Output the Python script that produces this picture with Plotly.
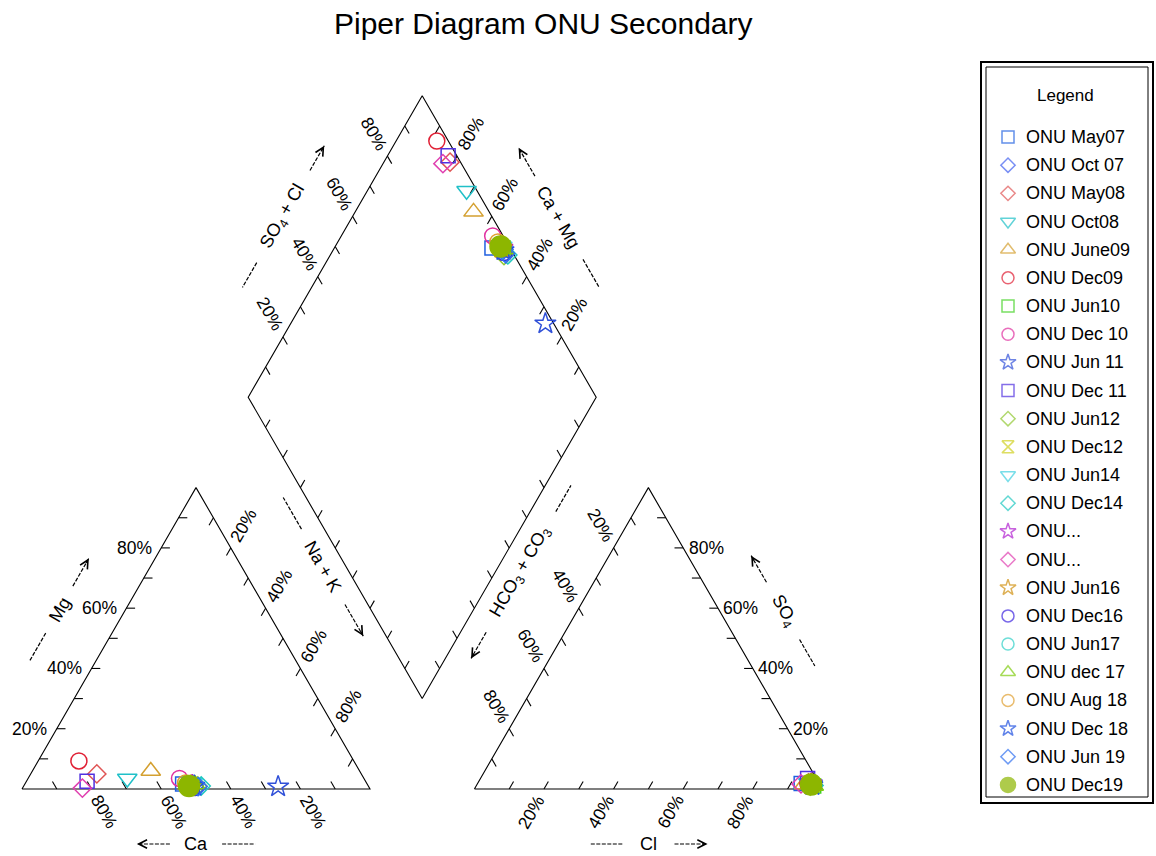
import math
import plotly.graph_objects as go

# ---------------- data (percent of meq) ----------------
samples = ["ONU May07", "ONU Oct 07", "ONU May08", "ONU Oct08", "ONU June09", "ONU Dec09",
           "ONU Jun10", "ONU Dec 10", "ONU Jun 11", "ONU Dec 11", "ONU Jun12", "ONU Dec12",
           "ONU Jun14", "ONU Dec14", "ONU...", "ONU...", "ONU Jun16", "ONU Dec16",
           "ONU Jun17", "ONU dec 17", "ONU Aug 18", "ONU Dec 18", "ONU Jun 19", "ONU Dec19"]
ca   = [53, 50, 76, 68, 60, 79, 51, 53, 26, 80, 49, 51, 50, 48, 50.5, 82.5, 51, 50, 51.5, 49.5, 52, 50, 49, 51.5]
mg   = [1.7, 1, 5, 3.5, 6, 9.3, 0.5, 3.5, 0.8, 2.6, 1, 1.5, 2, 1, 1.2, 0.3, 1, 0.5, 1, 1.5, 2, 1, 0.8, 1]
nak  = [45.3, 49, 19, 28.5, 34, 11.7, 48.5, 43.5, 73.2, 17.4, 50, 47.5, 48, 51, 48.3, 17.2, 48, 49.5, 47.5, 49, 46, 49, 50.2, 47.5]
cl   = [93, 96.5, 95, 95, 94, 95, 97, 95.5, 96, 94, 96, 96, 96.5, 97, 96, 93, 96, 96.5, 96, 97, 96, 96.5, 96.5, 96]
so4  = [1.8, 1.5, 2, 2, 1.5, 1.7, 1, 1.5, 1.6, 3.5, 1, 1.5, 1.5, 1.2, 1.8, 1.7, 1.5, 1, 1.3, 1, 1.5, 1.2, 1.3, 1.5]
hco3 = [5.2, 2, 3, 3, 4.5, 3.3, 2, 3, 2.4, 2.5, 3, 2.5, 2, 1.8, 2.2, 5.3, 2.5, 2.5, 2.7, 2, 2.5, 2.3, 2.2, 2.5]

symbols = ["square-open", "diamond-open", "diamond-open", "triangle-down-open", "triangle-up-open",
           "circle-open", "square-open", "circle-open", "star-open", "square-open", "diamond-open",
           "hourglass-open", "triangle-down-open", "diamond-open", "star-open", "diamond-open",
           "star-open", "circle-open", "circle-open", "triangle-up-open", "circle-open", "star-open",
           "diamond-open", "circle"]
colors = ["#2060e0", "#4060f0", "#e05555", "#20c0c8", "#d4a030", "#e02035", "#40d020", "#e030a0",
          "#3050d8", "#5030e0", "#90c830", "#d0d020", "#40d0e0", "#20c8c0", "#b020d0", "#e040b0",
          "#d09010", "#4028e0", "#30d0c8", "#80cc10", "#e0a030", "#2050e0", "#3070f0", "#8db600"]

tick_values = [20, 40, 60, 80]
tick_labels = ["20%", "40%", "60%", "80%"]

# ---------------- geometry ----------------
S3 = math.sqrt(3) / 2
GAP = 0.3
AX0 = 1 + GAP
BX, BY = 1 + GAP / 2, GAP * S3
PX = 348.0
X0PX, Y0PX = 22.0, 789.0
W, H = 1156, 856
FONT = "Liberation Sans, Arial, sans-serif"
TICK_FS = 17.5
TITLE_FS = 18
LEG_FS = 18


def ux(p):
    return (p - X0PX) / PX


def uy(p):
    return (Y0PX - p) / PX


def cat_xy(c, m, n):
    t = c + m + n
    return n / t + m / t / 2, m / t * S3


def an_xy(c, s, h):
    t = c + s + h
    return AX0 + c / t + s / t / 2, s / t * S3


def dia_xy(c, m, n, l, s, h):
    a = (c + m) / (c + m + n)
    b = (l + s) / (l + s + h)
    return BX + 0.5 * (b - a), BY + S3 * (a + b)


fig = go.Figure()
ann = []

# outlines
lx, ly = [], []
for poly in ([(0, 0), (1, 0), (0.5, S3), (0, 0)],
             [(AX0, 0), (AX0 + 1, 0), (AX0 + 0.5, S3), (AX0, 0)],
             [(BX, BY), (BX + 0.5, BY + S3), (BX, BY + 2 * S3), (BX - 0.5, BY + S3), (BX, BY)]):
    lx += [p[0] for p in poly] + [None]
    ly += [p[1] for p in poly] + [None]

TL = 0.025
LD = 0.075
# (p0 = 0%, p1 = 100%, tick dir, label dir, angle, mode)
sides = [
    ((1, 0), (0, 0), (-0.5, S3), (0.5, -S3), 60, "rot"),                       # Ca
    ((0, 0), (0.5, S3), (1, 0), None, 0, "left"),                               # Mg
    ((0.5, S3), (1, 0), (-0.5, -S3), (0.5, S3), -60, "rot"),                   # Na+K
    ((AX0, 0), (AX0 + 1, 0), (0.5, S3), (-0.5, -S3), -60, "rot"),              # Cl
    ((AX0 + 1, 0), (AX0 + 0.5, S3), (-1, 0), None, 0, "right"),                 # SO4
    ((AX0 + 0.5, S3), (AX0, 0), (0.5, -S3), (-0.5, S3), 60, "rot"),            # HCO3
    ((BX - 0.5, BY + S3), (BX, BY + 2 * S3), (0.5, -S3), (-0.5, S3), 60, "rot"),   # SO4+Cl
    ((BX + 0.5, BY + S3), (BX, BY + 2 * S3), (-0.5, -S3), (0.5, S3), -60, "rot"),  # Ca+Mg
    ((BX, BY), (BX - 0.5, BY + S3), (0.5, S3), None, 0, "none"),
    ((BX, BY), (BX + 0.5, BY + S3), (-0.5, S3), None, 0, "none"),
]
for p0, p1, td, ld, ang, mode in sides:
    for k in range(1, 10):
        f = k / 10
        px_ = p0[0] + (p1[0] - p0[0]) * f
        py_ = p0[1] + (p1[1] - p0[1]) * f
        lx += [px_, px_ + td[0] * TL, None]
        ly += [py_, py_ + td[1] * TL, None]
    for v, lab in zip(tick_values, tick_labels):
        f = v / 100
        px_ = p0[0] + (p1[0] - p0[0]) * f
        py_ = p0[1] + (p1[1] - p0[1]) * f
        if mode == "rot":
            ann.append(dict(x=px_ + ld[0] * LD, y=py_ + ld[1] * LD, text=lab, textangle=ang,
                            showarrow=False, xanchor="center", yanchor="middle",
                            font=dict(size=TICK_FS, color="black", family=FONT)))
        elif mode == "left":
            ann.append(dict(x=px_ - 0.022, y=py_, text=lab, showarrow=False,
                            xanchor="right", yanchor="middle",
                            font=dict(size=TICK_FS, color="black", family=FONT)))
        elif mode == "right":
            ann.append(dict(x=px_ + 0.01, y=py_, text=lab, showarrow=False,
                            xanchor="left", yanchor="middle",
                            font=dict(size=TICK_FS, color="black", family=FONT)))

fig.add_trace(go.Scatter(x=lx, y=ly, mode="lines", line=dict(color="black", width=1.1),
                         hoverinfo="skip", showlegend=False))

# axis titles with dashed line + arrow
titles = [
    ((0.5, -0.158), (-1, 0), "Ca", 0, 0.075, 0.17),
    ((AX0 + 0.5, -0.158), (1, 0), "Cl", 0, 0.075, 0.17),
    ((0.1071, 0.5155), (0.5, S3), "Mg", -60, 0.078, 0.17),
    ((2.1868, 0.512), (-0.5, S3), "SO<sub>4</sub>", 60, 0.095, 0.183),
    ((0.751, 1.645), (0.5, S3), "SO<sub>4</sub> + Cl", -60, 0.153, 0.235),
    ((1.543, 1.6415), (-0.5, S3), "Ca + Mg", 60, 0.138, 0.232),
    ((0.8656, 0.6385), (0.5, -S3), "Na + K", 60, 0.125, 0.23),
    ((1.4339, 0.6238), (-0.5, -S3), "HCO<sub>3</sub> + CO<sub>3</sub>", -60, 0.2, 0.287),
]
for (cx, cy), d, txt, ang, inner, outer in titles:
    ann.append(dict(x=cx, y=cy, text=txt, textangle=ang, showarrow=False,
                    xanchor="center", yanchor="middle",
                    font=dict(size=TITLE_FS, color="black", family=FONT)))
    dx, dy = [], []
    for sgn in (-1, 1):
        dx += [cx + sgn * d[0] * inner, cx + sgn * d[0] * outer, None]
        dy += [cy + sgn * d[1] * inner, cy + sgn * d[1] * outer, None]
    fig.add_trace(go.Scatter(x=dx, y=dy, mode="lines",
                             line=dict(color="black", width=1.2, dash="4px,1.5px"),
                             hoverinfo="skip", showlegend=False))
    tx, ty = cx + d[0] * outer, cy + d[1] * outer
    ann.append(dict(x=tx, y=ty, ax=tx - d[0] * 0.02, ay=ty - d[1] * 0.02, axref="x", ayref="y",
                    xref="x", yref="y", text="", showarrow=True, arrowhead=5, arrowsize=1.5,
                    arrowwidth=1.1, arrowcolor="black"))

# samples
for i, name in enumerate(samples):
    c_xy = cat_xy(ca[i], mg[i], nak[i])
    a_xy = an_xy(cl[i], so4[i], hco3[i])
    d_xy = dia_xy(ca[i], mg[i], nak[i], cl[i], so4[i], hco3[i])
    sym = symbols[i]
    if sym == "circle":
        size = 21
    elif "star" in sym:
        size = 16
    elif "triangle" in sym:
        size = 17
    elif "diamond" in sym:
        size = 14
    elif "circle" in sym:
        size = 16
    else:
        size = 14
    fig.add_trace(go.Scatter(
        x=[c_xy[0], a_xy[0], d_xy[0]], y=[c_xy[1], a_xy[1], d_xy[1]],
        mode="markers", name=name, showlegend=False,
        marker=dict(symbol=sym, size=size, color=colors[i],
                    line=dict(color=colors[i], width=1.5))))

# manual legend
leg_y = [uy(137 + k * 28.17) for k in range(len(samples))]
leg_sizes = []
for sym in symbols:
    if sym == "circle":
        leg_sizes.append(15)
    elif "star" in sym:
        leg_sizes.append(12)
    elif "diamond" in sym:
        leg_sizes.append(11)
    elif "triangle" in sym:
        leg_sizes.append(13)
    else:
        leg_sizes.append(12)
fig.add_trace(go.Scatter(
    x=[ux(1008)] * len(samples), y=leg_y, mode="markers", showlegend=False, hoverinfo="skip",
    marker=dict(symbol=symbols, size=leg_sizes, color=colors,
                line=dict(color=colors, width=1.5))))
for k, name in enumerate(samples):
    ann.append(dict(x=ux(1024), y=leg_y[k], text=name, showarrow=False, xanchor="left",
                    yanchor="middle", font=dict(size=LEG_FS, color="black", family=FONT)))
ann.append(dict(x=ux(1065), y=uy(95), text="Legend", showarrow=False, xanchor="center",
                yanchor="middle", font=dict(size=17, color="black", family=FONT)))

# title
ann.append(dict(x=543 / W, y=1 - 23 / H, xref="paper", yref="paper", text="Piper Diagram ONU Secondary",
                showarrow=False, xanchor="center", yanchor="middle",
                font=dict(size=30, color="black", family=FONT)))

shapes = [
    dict(type="rect", xref="paper", yref="paper", x0=981 / W, x1=1153 / W, y0=1 - 803 / H, y1=1 - 62 / H,
         line=dict(color="black", width=2)),
    dict(type="rect", xref="paper", yref="paper", x0=986 / W, x1=1148 / W, y0=1 - 797 / H, y1=1 - 67 / H,
         line=dict(color="black", width=1)),
]

fig.update_layout(
    width=W, height=H, autosize=False,
    margin=dict(l=0, r=0, t=0, b=0, pad=0),
    paper_bgcolor="white", plot_bgcolor="white",
    xaxis=dict(range=[ux(0), ux(W)], visible=False, fixedrange=True),
    yaxis=dict(range=[uy(H), uy(0)], visible=False, fixedrange=True),
    annotations=ann, shapes=shapes, showlegend=False, hovermode=False,
    font=dict(family=FONT, color="black"),
)

fig.write_html("out.html", config={"displayModeBar": False},
               post_script="document.body.style.margin='0';document.body.style.overflow='hidden';")
